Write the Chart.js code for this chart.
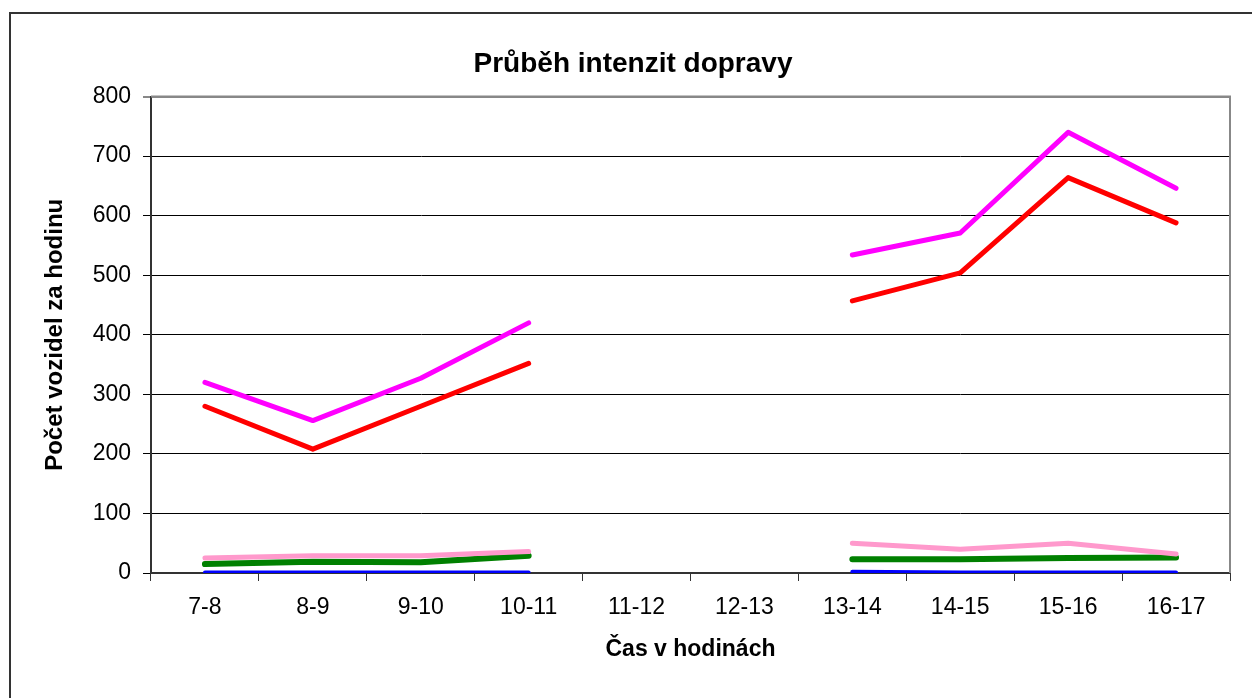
<!DOCTYPE html>
<html lang="cs">
<head>
<meta charset="utf-8">
<title>Průběh intenzit dopravy</title>
<script src="https://cdn.jsdelivr.net/npm/chart.js@4.4.1/dist/chart.umd.min.js"></script>
<style>
  html, body { margin: 0; padding: 0; background: #fff; }
  #wrap { position: relative; width: 1252px; height: 698px; }
</style>
</head>
<body>
<div id="wrap"><canvas id="graf"></canvas></div>
<script>
// kategorie (hodiny) a hodnoty řad
const hodiny = ["7-8", "8-9", "9-10", "10-11", "11-12", "12-13", "13-14", "14-15", "15-16", "16-17"];
const celkem = [320, 256, 327, 420, null, null, 534, 571, 740, 646];
const osobni = [280, 208, 280, 352, null, null, 457, 504, 664, 588];
const nakladni = [25, 29, 29, 36, null, null, 50, 40, 50, 32];
const autobusy = [15, 19, 18, 29, null, null, 23, 23, 25, 26];
const motocykly = [1, 1, 1, 1, null, null, 2, 1, 1, 1];
const osaY = [0, 100, 200, 300, 400, 500, 600, 700, 800];

const pismo = "'Liberation Sans', Arial, sans-serif";

// rámeček grafu a okraj plochy grafu
const ramecek = {
  id: "ramecek",
  beforeDraw(chart) {
    const c = chart.ctx;
    c.save();
    c.fillStyle = "#fff";
    c.fillRect(0, 0, chart.width, chart.height);
    c.strokeStyle = "#333";
    c.lineWidth = 2;
    c.strokeRect(10, 13, 1400, 900);
    c.restore();
  },
  beforeDatasetsDraw(chart) {
    const a = chart.chartArea;
    const c = chart.ctx;
    c.save();
    c.strokeStyle = "#888";
    c.lineWidth = 2;
    c.beginPath();
    c.moveTo(a.left, a.top);
    c.lineTo(a.right, a.top);
    c.lineTo(a.right, a.bottom);
    c.stroke();
    c.restore();
  }
};

function rada(nazev, hodnoty, barva, sirka, poradi) {
  return {
    label: nazev,
    data: hodnoty,
    borderColor: barva,
    backgroundColor: barva,
    borderWidth: sirka,
    pointRadius: 0,
    tension: 0,
    borderCapStyle: "round",
    borderJoinStyle: "round",
    fill: false,
    order: poradi
  };
}

new Chart(document.getElementById("graf"), {
  type: "line",
  data: {
    labels: hodiny,
    datasets: [
      rada("Celkem", celkem, "#ff00ff", 5, 1),
      rada("Osobní", osobni, "#ff0000", 5, 2),
      rada("Autobusy", autobusy, "#008000", 6, 4),
      rada("Nákladní", nakladni, "#ff99cc", 5, 3),
      rada("Motocykly", motocykly, "#0000ff", 4, 5)
    ]
  },
  options: {
    responsive: true,
    maintainAspectRatio: false,
    animation: false,
    spanGaps: false,
    layout: { padding: { left: 36, right: 22, top: 0, bottom: 0 } },
    plugins: {
      legend: { display: false },
      tooltip: { enabled: false },
      title: {
        display: true,
        text: "Průběh intenzit dopravy",
        color: "#000",
        font: { family: pismo, size: 28, weight: "bold" },
        padding: { top: 47, bottom: 16 }
      }
    },
    scales: {
      x: {
        offset: true,
        grid: {
          offset: true,
          drawOnChartArea: false,
          drawTicks: true,
          tickLength: 8,
          color: "#333"
        },
        border: { color: "#333", width: 2 },
        ticks: {
          color: "#000",
          padding: 13,
          maxRotation: 0,
          autoSkip: false,
          font: { family: pismo, size: 23 }
        },
        title: {
          display: true,
          text: "Čas v hodinách",
          color: "#000",
          font: { family: pismo, size: 23, weight: "bold" },
          padding: { top: 0, bottom: 35 }
        },
        afterFit(s) { s.height = 125; }
      },
      y: {
        min: osaY[0],
        max: osaY[osaY.length - 1],
        afterBuildTicks(s) { s.ticks = osaY.map(v => ({ value: v })); },
        grid: {
          color: c => (c.tick && c.tick.value === 800 ? "#888" : "#000"),
          lineWidth: c => (c.tick && c.tick.value === 800 ? 2 : 1),
          tickLength: 8,
          drawTicks: true
        },
        border: { color: "#333", width: 2 },
        ticks: {
          color: "#000",
          padding: 12,
          font: { family: pismo, size: 23 }
        },
        title: {
          display: true,
          text: "Počet vozidel za hodinu",
          color: "#000",
          font: { family: pismo, size: 24, weight: "bold" },
          padding: { top: 5, bottom: 0 }
        },
        afterFit(s) { s.width = 115; }
      }
    }
  },
  plugins: [ramecek]
});
</script>
</body>
</html>
